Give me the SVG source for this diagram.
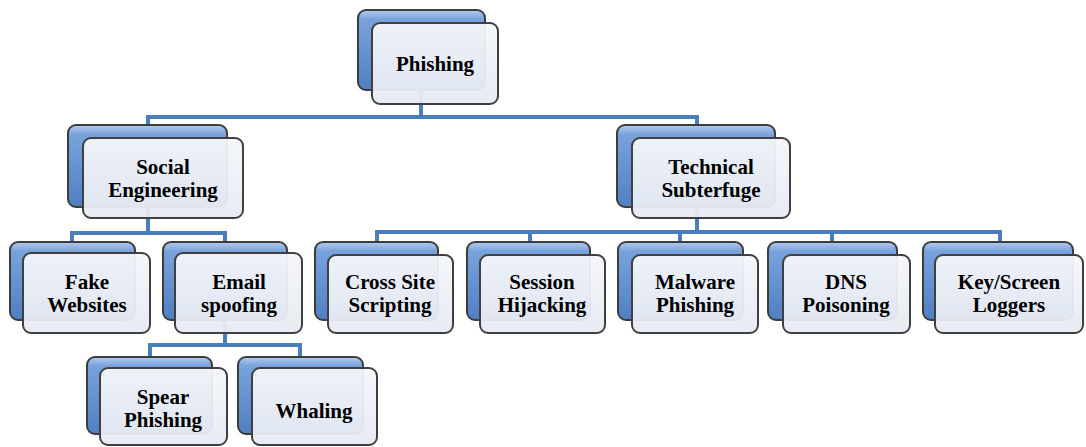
<svg xmlns="http://www.w3.org/2000/svg" width="1086" height="447" viewBox="0 0 1086 447">
<defs>
<linearGradient id="bg" x1="0" y1="0" x2="0" y2="1">
<stop offset="0" stop-color="#b3ccee"/>
<stop offset="0.12" stop-color="#78a2db"/>
<stop offset="1" stop-color="#4f80c3"/>
</linearGradient>
<linearGradient id="fg" x1="0" y1="0" x2="0" y2="1">
<stop offset="0" stop-color="#f4f6fa"/>
<stop offset="1" stop-color="#e6eaf2"/>
</linearGradient>
</defs>
<style>
.back{fill:url(#bg);stroke:#3d3d3d;stroke-width:2}
.front{fill:url(#fg);fill-opacity:0.95;stroke:#404040;stroke-width:2}
.conn{fill:none;stroke:#4a7ebb;stroke-width:4}
text{font-family:"Liberation Serif","Times New Roman",serif;font-weight:bold;font-size:21px;fill:#000;text-anchor:middle}
</style>
<rect width="1086" height="447" fill="#fff"/>
<g id="connectors" class="conn">
<path d="M421,60 V117 M148,125 V117 H697 V125"/>
<path d="M148,200 V233 M72,242 V233 H225 V242"/>
<path d="M225,300 V345 M150,357 V345 H300 V357"/>
<path d="M697,200 V232 M377,242 V232 H1000 V242 M530,232 V242 M680,232 V242 M832,232 V242"/>
</g>
<g id="phishing"><rect class="back" x="358" y="10" width="127" height="80" rx="8"/><rect class="front" x="372" y="23" width="126" height="81" rx="8"/><text x="435" y="71">Phishing</text></g>
<g id="social"><rect class="back" x="68" y="125" width="159" height="82" rx="8"/><rect class="front" x="83" y="138" width="160" height="80" rx="8"/><text x="163" y="174">Social</text><text x="163" y="197">Engineering</text></g>
<g id="technical"><rect class="back" x="617" y="125" width="158" height="82" rx="8"/><rect class="front" x="632" y="138" width="158" height="80" rx="8"/><text x="711" y="174">Technical</text><text x="711" y="197">Subterfuge</text></g>
<g id="fake"><rect class="back" x="10" y="242" width="125" height="78" rx="8"/><rect class="front" x="23" y="253" width="127" height="80" rx="8"/><text x="87" y="289">Fake</text><text x="87" y="312">Websites</text></g>
<g id="email"><rect class="back" x="163" y="242" width="124" height="78" rx="8"/><rect class="front" x="175" y="253" width="127" height="80" rx="8"/><text x="239" y="289">Email</text><text x="239" y="312">spoofing</text></g>
<g id="spear"><rect class="back" x="87" y="357" width="125" height="77" rx="8"/><rect class="front" x="100" y="368" width="127" height="77" rx="8"/><text x="163" y="404">Spear</text><text x="163" y="427">Phishing</text></g>
<g id="whaling"><rect class="back" x="238" y="357" width="125" height="77" rx="8"/><rect class="front" x="252" y="368" width="125" height="77" rx="8"/><text x="314" y="418">Whaling</text></g>
<g id="crosssite"><rect class="back" x="315" y="242" width="123" height="78" rx="8"/><rect class="front" x="328" y="255" width="125" height="78" rx="8"/><text x="390" y="289">Cross Site</text><text x="390" y="312">Scripting</text></g>
<g id="session"><rect class="back" x="467" y="242" width="123" height="78" rx="8"/><rect class="front" x="480" y="255" width="125" height="78" rx="8"/><text x="542" y="289">Session</text><text x="542" y="312">Hijacking</text></g>
<g id="malware"><rect class="back" x="618" y="242" width="125" height="78" rx="8"/><rect class="front" x="632" y="255" width="126" height="78" rx="8"/><text x="695" y="289">Malware</text><text x="695" y="312">Phishing</text></g>
<g id="dns"><rect class="back" x="768" y="242" width="129" height="78" rx="8"/><rect class="front" x="783" y="255" width="127" height="78" rx="8"/><text x="846" y="289">DNS</text><text x="846" y="312">Poisoning</text></g>
<g id="keylog"><rect class="back" x="923" y="242" width="150" height="78" rx="8"/><rect class="front" x="935" y="255" width="148" height="78" rx="8"/><text x="1009" y="289">Key/Screen</text><text x="1009" y="312">Loggers</text></g>
</svg>
